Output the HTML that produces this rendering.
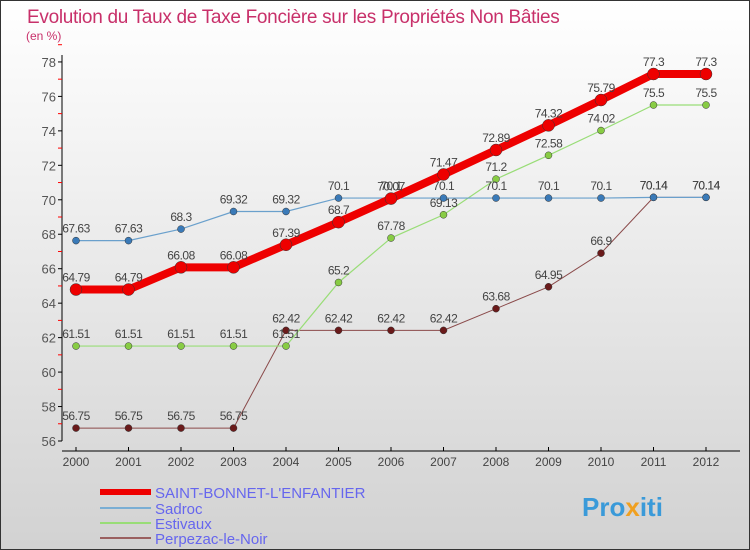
<!DOCTYPE html>
<html><head><meta charset="utf-8"><style>
body{margin:0}
#wrap{width:750px;height:550px;position:relative;overflow:hidden;background:linear-gradient(#fff,#d2d2d2);box-sizing:border-box;border:1px solid #333;font-family:"Liberation Sans",sans-serif}
</style></head><body>
<div id="wrap">
<svg id="svg" width="750" height="550" style="position:absolute;left:-1px;top:-1px">
<text x="27" y="23" font-size="19" fill="#c8306a" letter-spacing="-0.3">Evolution du Taux de Taxe Foncière sur les Propriétés Non Bâties</text>
<text x="26" y="40" font-size="12" fill="#c8306a">(en %)</text>
<g id="axes"></g><g id="series"></g>
<g>
<line x1="100" y1="492" x2="151" y2="492" stroke="#e00" stroke-width="6"/>
<text x="155" y="498" font-size="15" fill="#6666ee">SAINT-BONNET-L'ENFANTIER</text>
<line x1="100" y1="508" x2="151" y2="508" stroke="#7aaed4" stroke-width="2"/>
<text x="155" y="514" font-size="15" fill="#6666ee">Sadroc</text>
<line x1="100" y1="523" x2="151" y2="523" stroke="#99dd77" stroke-width="2"/>
<text x="155" y="529" font-size="15" fill="#6666ee">Estivaux</text>
<line x1="100" y1="538" x2="151" y2="538" stroke="#9a6060" stroke-width="2"/>
<text x="155" y="544" font-size="15" fill="#6666ee">Perpezac-le-Noir</text>
</g>
<text x="582" y="516" font-size="26" font-weight="bold" fill="#3a9ad9">Pro<tspan fill="#f0a020">x</tspan>iti</text>
</svg>
</div>
<script>
const years=["2000","2001","2002","2003","2004","2005","2006","2007","2008","2009","2010","2011","2012"];
const yTicks=[56,58,60,62,64,66,68,70,72,74,76,78];
const saint=[64.79,64.79,66.08,66.08,67.39,68.7,70.07,71.47,72.89,74.32,75.79,77.3,77.3];
const sadroc=[67.63,67.63,68.3,69.32,69.32,70.1,70.1,70.1,70.1,70.1,70.1,70.14,70.14];
const estivaux=[61.51,61.51,61.51,61.51,61.51,65.2,67.78,69.13,71.2,72.58,74.02,75.5,75.5];
const perpezac=[56.75,56.75,56.75,56.75,62.42,62.42,62.42,62.42,63.68,64.95,66.9,70.14,70.14];
const NS="http://www.w3.org/2000/svg";
const X=i=>76+i*52.5, Y=v=>441-(v-56)*17.23;
function mk(p,t,a){const e=document.createElementNS(NS,t);for(const k in a)e.setAttribute(k,a[k]);p.appendChild(e);return e;}
const ax=document.getElementById('axes'),sg=document.getElementById('series');
let e=mk(ax,'line',{x1:62,y1:55,x2:62,y2:441,stroke:'#000'});


e=mk(ax,'line',{x1:62,y1:451,x2:740,y2:451,stroke:'#000'});


yTicks.forEach(v=>{
  mk(ax,'line',{x1:58,y1:Y(v),x2:62,y2:Y(v),stroke:'#000'});
  mk(ax,'line',{x1:58,y1:Y(v+1),x2:62,y2:Y(v+1),stroke:'#f00'});
  const t=mk(ax,'text',{x:56,y:Y(v)+5,'font-size':13,fill:'#555','text-anchor':'end'});t.textContent=v;
  
  
});
years.forEach((y,i)=>{
  mk(ax,'line',{x1:X(i),y1:447,x2:X(i),y2:451,stroke:'#000'});
  const t=mk(ax,'text',{x:X(i),y:466,'font-size':12,fill:'#444','text-anchor':'middle'});t.textContent=y;
  
  
});
function series(d,col,w,r,dot,name){
  const g=mk(sg,'g',{});
  
  
  mk(g,'polyline',{points:d.map((v,i)=>X(i)+','+Y(v)).join(' '),fill:'none',stroke:col,'stroke-width':w});
  d.forEach((v,i)=>{
    const c=mk(g,'circle',{cx:X(i),cy:Y(v),r:r,fill:dot,stroke:'#333','stroke-width':0.5});
    
    
    const t=mk(g,'text',{x:X(i),y:Y(v)-8,'font-size':12,fill:'#444','text-anchor':'middle','letter-spacing':'-0.5'});t.textContent=v;
  });
}
series(perpezac,'#8a4a4a',1,3.5,'#6a1a1a','perpezac-series');
series(estivaux,'#99dd77',1.2,3.5,'#88cc44','estivaux-series');
series(sadroc,'#6aa0cc',1.2,3.5,'#3a7ab8','sadroc-series');
series(saint,'#ee0000',8,6,'#ee0000','saint-bonnet-series');
</script>
</body></html>
